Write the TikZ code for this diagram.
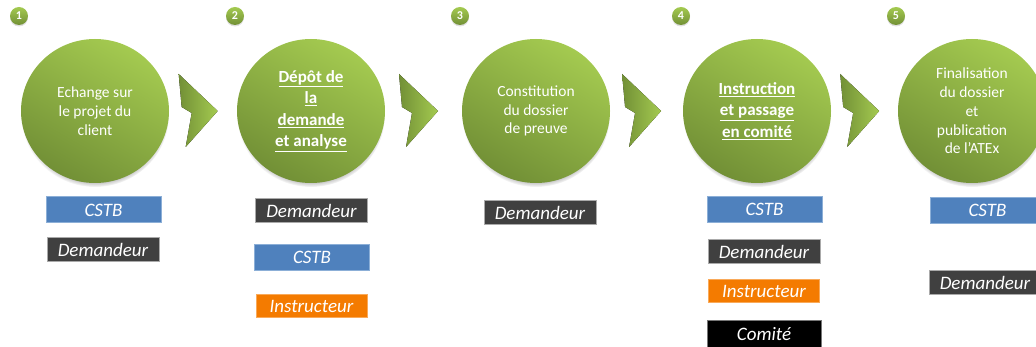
\documentclass[tikz,border=0pt]{standalone}
\usepackage{fontspec}
\setmainfont{Carlito}
\usetikzlibrary{calc, shadows, shapes.geometric}

\definecolor{greenlight}{RGB}{164,202,80}
\definecolor{greendark}{RGB}{114,144,54}
\definecolor{cstbblue}{RGB}{79,129,189}
\definecolor{cstbline}{RGB}{140,175,215}
\definecolor{demgray}{RGB}{64,64,64}
\definecolor{demline}{RGB}{170,170,170}
\definecolor{instrorange}{RGB}{244,123,0}
\definecolor{instrline}{RGB}{249,170,90}

\begin{document}
\begin{tikzpicture}[x=1pt, y=-1pt,
	etape/.style={ellipse, minimum width=148pt, minimum height=144pt, inner sep=0pt,
		top color=greenlight, bottom color=greendark, shading angle=-30,
		circular drop shadow={shadow xshift=0pt, shadow yshift=-4pt, shadow scale=1.0},
		text=white, align=center, font=\fontsize{15.5}{18.7}\selectfont},
	etapeb/.style={etape, font=\fontsize{17}{21.5}\selectfont\bfseries},
	badge/.style={circle, minimum size=18pt, inner sep=0pt,
		top color=greenlight, bottom color=greendark,
		drop shadow={opacity=0.25, shadow xshift=0pt, shadow yshift=-1.5pt},
		text=white, font=\fontsize{12}{12}\selectfont\bfseries},
	chevron/.style={left color=greendark, right color=greenlight},
	role/.style={inner sep=0pt, minimum height=25pt, line width=1pt, text=white,
		font=\fontsize{19}{19}\selectfont\itshape},
	cstb/.style={role, fill=cstbblue, draw=cstbline, minimum width=115pt, minimum height=26pt},
	dem/.style={role, fill=demgray, draw=demline, minimum width=112pt, minimum height=24pt},
	instr/.style={role, fill=instrorange, draw=instrline, minimum width=111pt, minimum height=23pt},
	comite/.style={role, fill=black, draw=demline!70!black, minimum width=114pt, minimum height=26pt}
	]
	\useasboundingbox (0,0) rectangle (1036,347);

	% etapes
	\foreach \i/\x/\sty/\txt in {
		1/95/etape/{Echange sur\\le projet du\\client},
		2/311/etapeb/{\underline{Dépôt de}\\\underline{la}\\\underline{demande}\\\underline{et analyse}},
		3/536/etape/{Constitution\\du dossier\\de preuve},
		4/757/etapeb/{\underline{Instruction}\\\underline{et passage}\\\underline{en comité}},
		5/972/etape/{Finalisation\\du dossier\\et\\publication\\de l'ATEx}} {
		\node[\sty] (s\i) at (\x,111) {\txt};
		\node[badge] (b\i) at ($(s\i)+(-76,-95)$) {\i};
	}

	% chevrons
	\foreach \i [count=\j from 2] in {1,...,4} {
		\coordinate (m\i) at ($(s\i)!0.48!(s\j)$);
		\fill[chevron, shift={(m\i)}] (-20,-37) -- (19,0) -- (-13,36) -- (-7,2) -- (-17,-4) -- cycle;
	}

	% acteurs
	\node[cstb] (c1) at (103.5,210) {CSTB};
	\node[dem] (d1) at (103,249.5) {Demandeur};

	\node[dem] (d2) at (311.5,211) {Demandeur};
	\node[cstb] (c2) at (312,257.5) {CSTB};
	\node[instr] (i2) at (311.5,306.5) {Instructeur};

	\node[dem] (d3) at (540,213) {Demandeur};

	\node[cstb] (c4) at (764.5,209.5) {CSTB};
	\node[dem] (d4) at (764,251.5) {Demandeur};
	\node[instr] (i4) at (764,291) {Instructeur};
	\node[comite] (k4) at (764,334) {Comité};

	\node[cstb] (c5) at (987.5,210.5) {CSTB};
	\node[dem] (d5) at (985,283) {Demandeur};
\end{tikzpicture}
\end{document}
